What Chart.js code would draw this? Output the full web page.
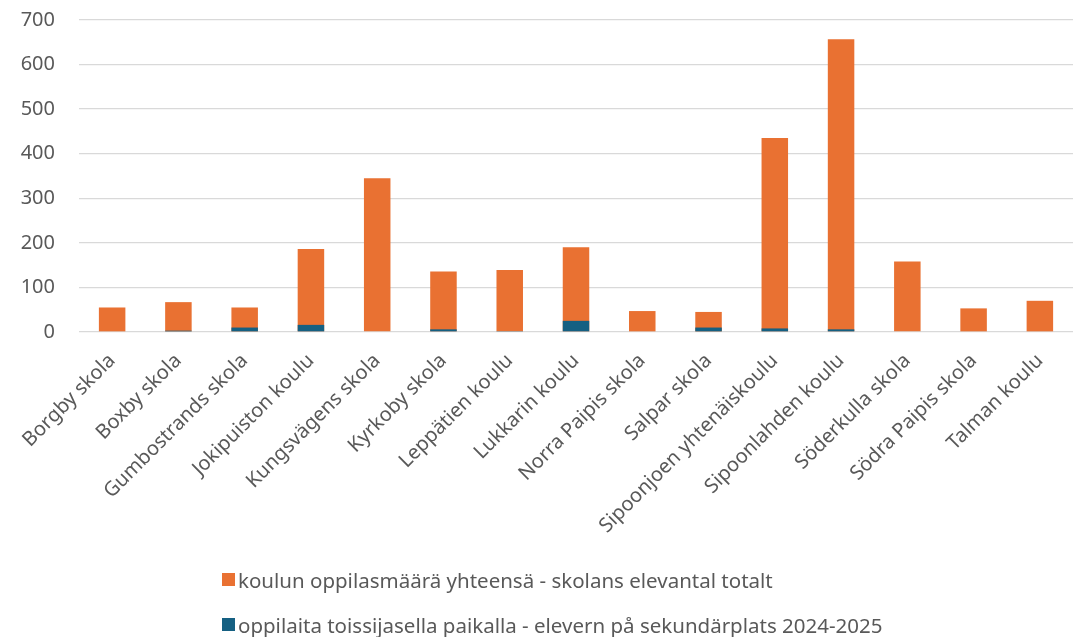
<!DOCTYPE html>
<html>
<head>
<meta charset="utf-8">
<script src="https://cdn.jsdelivr.net/npm/chart.js@4.4.1/dist/chart.umd.min.js"></script>
<style>
    html, body { margin: 0; padding: 0; background: #fff; }
    #wrap { position: relative; width: 1076px; height: 637px; }
    #legend {
        position: absolute; left: 222px; top: 565px;
        font-family: "Noto Sans", sans-serif; font-size: 20.5px; color: #595959;
    }
    .item { display: flex; align-items: center; height: 29px; margin-bottom: 16px; white-space: nowrap; }
    .box { width: 13px; height: 13px; margin-right: 3px; }
</style>
</head>
<body>
<div id="wrap">
    <canvas id="chart" width="1076" height="637"></canvas>
    <div id="legend"></div>
</div>
<script>
// koulut / skolor
const schools = [
    'Borgby skola', 'Boxby skola', 'Gumbostrands skola', 'Jokipuiston koulu',
    'Kungsvägens skola', 'Kyrkoby skola', 'Leppätien koulu', 'Lukkarin koulu',
    'Norra Paipis skola', 'Salpar skola', 'Sipoonjoen yhtenäiskoulu',
    'Sipoonlahden koulu', 'Söderkulla skola', 'Södra Paipis skola', 'Talman koulu'
];

// oppilasmäärä yhteensä
const totalPupils = [55, 67, 55, 186, 345, 136, 139, 190, 47, 45, 435, 657, 158, 53, 70];

// toissijaisella paikalla
const secondaryPupils = [0, 3, 10, 16, 0, 6, 2, 25, 0, 10, 8, 6, 0, 0, 0];

const yTicks = [0, 100, 200, 300, 400, 500, 600, 700];

const totalLabel = 'koulun oppilasmäärä yhteensä - skolans elevantal totalt';
const secondaryLabel = 'oppilaita toissijasella paikalla - elevern på sekundärplats 2024-2025';

const ORANGE = '#E97132';
const BLUE = '#156082';
const TEXT = '#595959';

// ei ylimääräistä reunusta kierrettyjen nimien takia
function noPadding(axis) {
    axis._calculatePadding = function () {
        this.paddingLeft = 0;
        this.paddingRight = 0;
        this.paddingTop = 0;
        this.paddingBottom = 0;
    };
}

const ctx = document.getElementById('chart');
const chart = new Chart(ctx, {
    type: 'bar',
    data: {
        labels: schools,
        datasets: [
            {
                label: totalLabel,
                data: totalPupils,
                backgroundColor: ORANGE,
                order: 1,
                barPercentage: 0.4,
                categoryPercentage: 1
            },
            {
                label: secondaryLabel,
                data: secondaryPupils,
                backgroundColor: BLUE,
                order: 0,
                barPercentage: 0.4,
                categoryPercentage: 1
            }
        ]
    },
    options: {
        responsive: false,
        animation: false,
        layout: { padding: { left: 20, right: 3, top: 20, bottom: 95 } },
        plugins: {
            legend: { display: false },
            tooltip: { enabled: false }
        },
        scales: {
            x: {
                stacked: true,
                grid: { display: false },
                border: { display: false },
                beforeFit: noPadding,
                afterFit: axis => { axis.height = 210; },
                ticks: {
                    color: TEXT,
                    font: { family: 'Noto Sans', size: 20 },
                    maxRotation: 45,
                    minRotation: 45,
                    autoSkip: false,
                    padding: 9
                }
            },
            y: {
                stacked: false,
                min: 0,
                max: 700,
                afterBuildTicks: axis => { axis.ticks = yTicks.map(v => ({ value: v })); },
                beforeFit: noPadding,
                afterFit: axis => { axis.width = 59; },
                grid: { color: '#d9d9d9', lineWidth: 1.3, drawTicks: false },
                border: { display: false },
                ticks: {
                    color: TEXT,
                    font: { family: 'Noto Sans', size: 20 },
                    padding: 24
                }
            }
        }
    }
});

// selite / förklaring
const legend = document.getElementById('legend');
chart.data.datasets.forEach(ds => {
    const row = document.createElement('div');
    row.className = 'item';
    row.innerHTML = '<span class="box" style="background:' + ds.backgroundColor + '"></span><span>' + ds.label + '</span>';
    legend.appendChild(row);
});
</script>
</body>
</html>
